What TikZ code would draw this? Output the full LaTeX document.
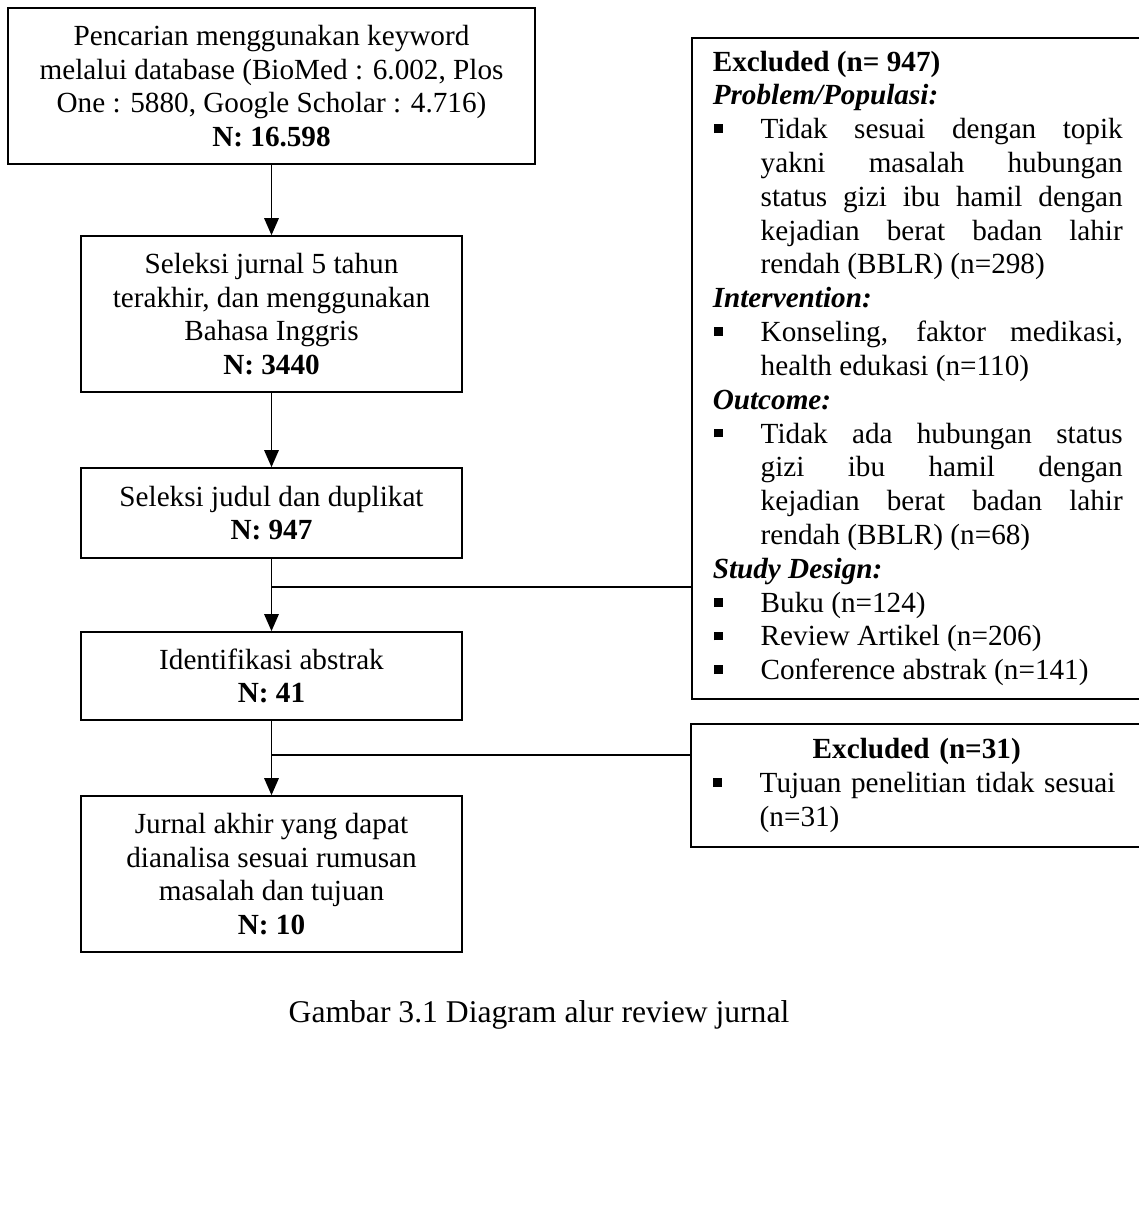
\documentclass[tikz,border=0pt]{standalone}
\usepackage{fontspec}
\setmainfont{Liberation Serif}
\usetikzlibrary{arrows.meta}
\newcommand{\bulletitem}[1]{\par\noindent\hangindent=19.7pt\hangafter=1%
  \makebox[19.7pt][l]{\hspace{0.4pt}\raisebox{2.3pt}{\rule{3.6pt}{3.6pt}}}#1\par}
\tikzset{
  flowbox/.style={draw,line width=0.7pt,align=center,inner sep=0pt,
    minimum width=156.6pt,font=\fontsize{12}{13.8}\selectfont},
  exbox/.style={draw,line width=0.7pt,anchor=north west,inner xsep=8.6pt,
    inner ysep=0pt,text width=168.5pt,font=\fontsize{12}{13.9}\selectfont},
  link/.style={line width=0.55pt,-{Triangle[length=7pt,width=6pt]}},
  branch/.style={line width=0.55pt}
}
\begin{document}
\begin{tikzpicture}[x=0.411pt,y=-0.411pt]
\useasboundingbox (0,0) rectangle (1139,1216);
\node[flowbox,minimum width=216.6pt,minimum height=64.1pt] (search) at (271.5,86) {Pencarian menggunakan keyword\\melalui database (BioMed : 6.002, Plos\\One : 5880, Google Scholar : 4.716)\\\textbf{N: 16.598}};
\node[flowbox,minimum height=64.1pt] (select5) at (271.5,314) {Seleksi jurnal 5 tahun\\terakhir, dan menggunakan\\Bahasa Inggris\\\textbf{N: 3440}};
\node[flowbox,minimum height=37pt] (duplikat) at (271.5,513) {Seleksi judul dan duplikat\\\textbf{N: 947}};
\node[flowbox,minimum height=36.2pt] (abstrak) at (271.5,676) {Identifikasi abstrak\\\textbf{N: 41}};
\node[flowbox,minimum height=64.1pt] (akhir) at (271.5,874) {Jurnal akhir yang dapat\\dianalisa sesuai rumusan\\masalah dan tujuan\\\textbf{N: 10}};
% excluded boxes
\node[exbox,align=justify,minimum height=271.7pt] (excl1) at (691,37) {%
\parindent=0pt\tolerance=9999\hyphenpenalty=10000
\textbf{Excluded (n= 947)}\par
\textbf{\textit{Problem/Populasi:}}\par
\bulletitem{Tidak sesuai dengan topik\linebreak yakni masalah hubungan\linebreak status gizi ibu hamil dengan\linebreak kejadian berat badan lahir\linebreak rendah (BBLR) (n=298)}
\textbf{\textit{Intervention:}}\par
\bulletitem{Konseling, faktor medikasi,\linebreak health edukasi (n=110)}
\textbf{\textit{Outcome:}}\par
\bulletitem{Tidak ada hubungan status\linebreak gizi ibu hamil dengan\linebreak kejadian berat badan lahir\linebreak rendah (BBLR) (n=68)}
\textbf{\textit{Study Design:}}\par
\bulletitem{Buku (n=124)}
\bulletitem{Review Artikel (n=206)}
\bulletitem{Conference abstrak (n=141)}};
\node[exbox,align=left,minimum height=50.6pt] (excl2) at (690,723) {%
\parindent=0pt\hyphenpenalty=10000
{\centering\textbf{Excluded (n=31)}\par}
\bulletitem{Tujuan penelitian tidak sesuai (n=31)}};
% arrows
\draw[link] (search) -- (select5);
\draw[link] (select5) -- (duplikat);
\draw[link] (duplikat) -- (abstrak);
\draw[link] (abstrak) -- (akhir);
\coordinate (split1) at (271.5,587);
\coordinate (split2) at (271.5,755);
\draw[branch] (split1) -- (split1 -| excl1.west);
\draw[branch] (split2) -- (split2 -| excl2.west);
\node[font=\fontsize{13}{15.6}\selectfont] (caption) at (539,1015) {Gambar 3.1 Diagram alur review jurnal};
\end{tikzpicture}
\end{document}
